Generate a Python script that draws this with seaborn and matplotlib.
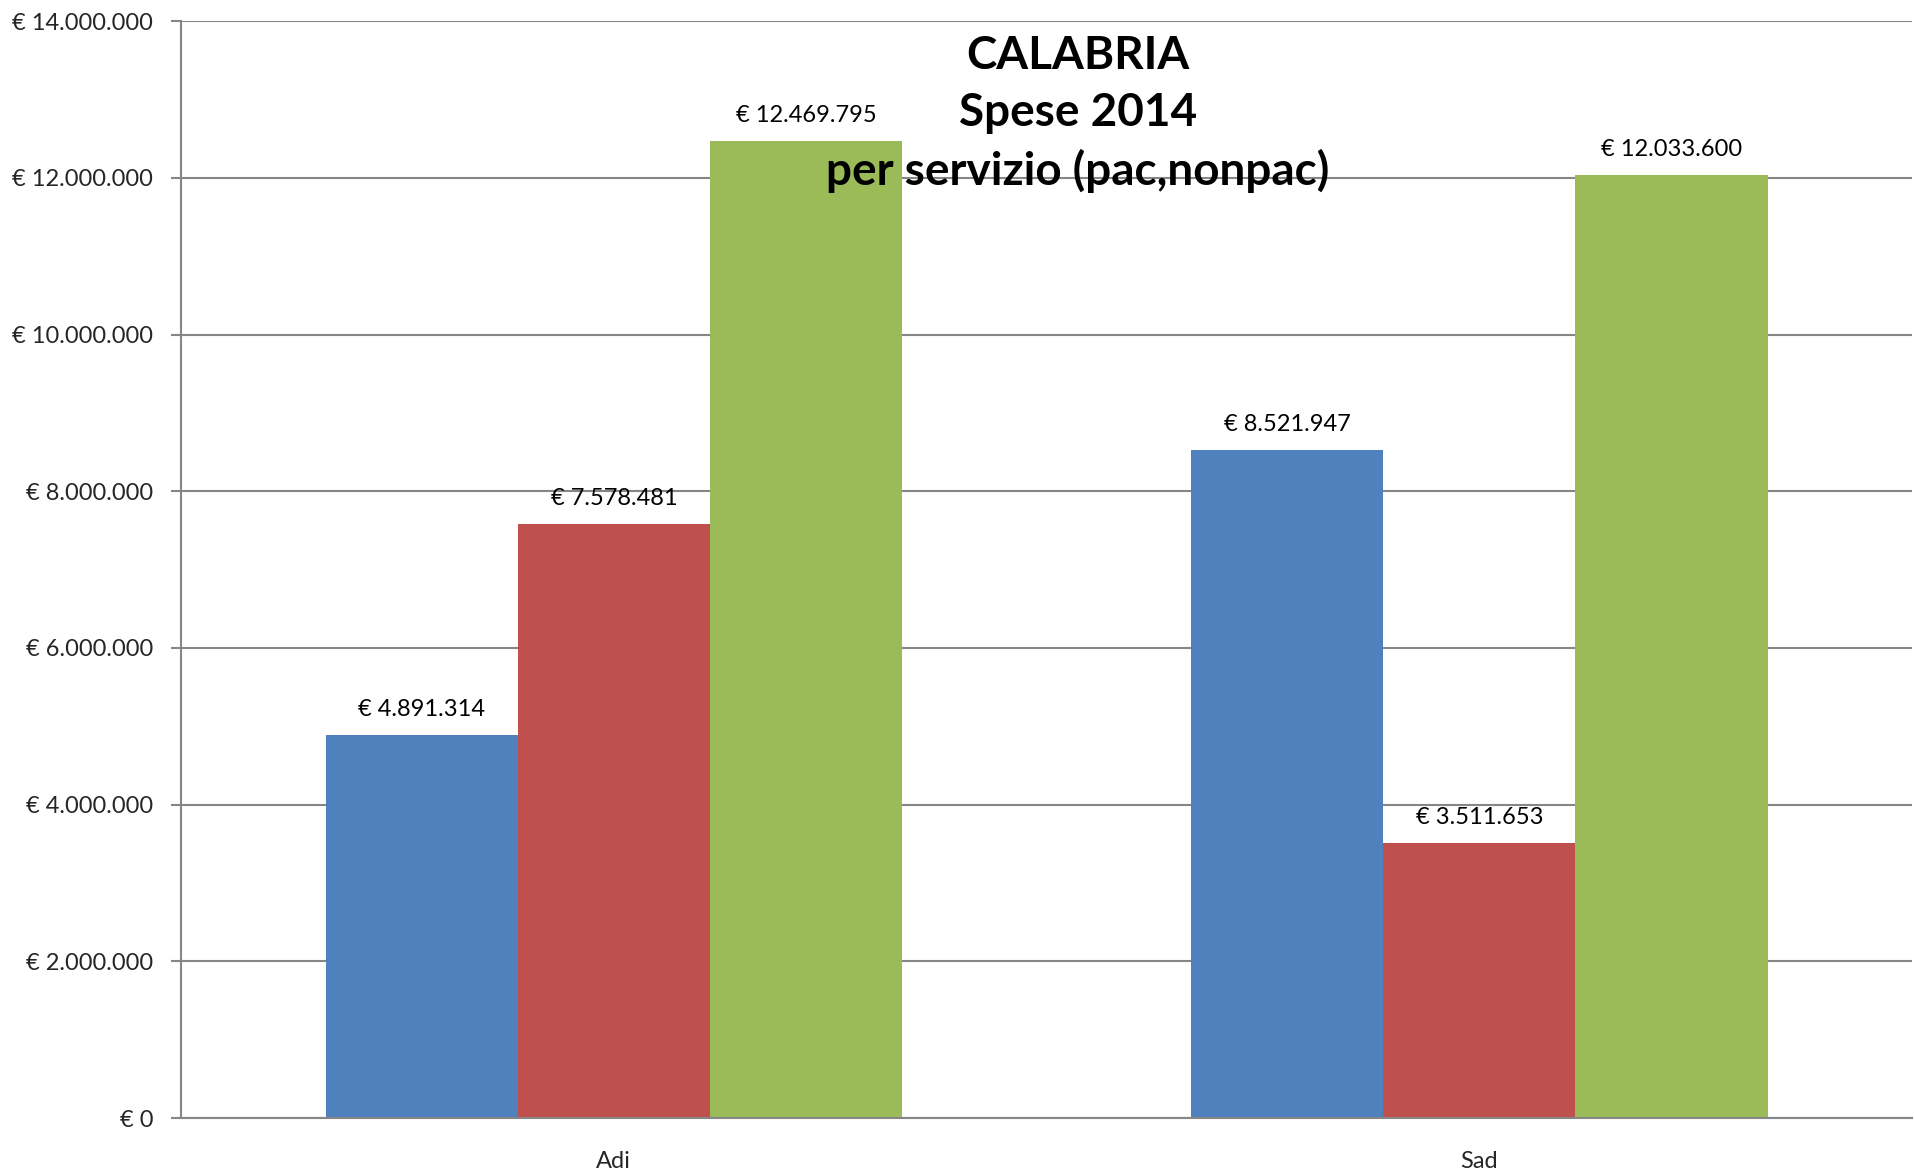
import matplotlib
matplotlib.use("Agg")
import matplotlib.pyplot as plt
import seaborn as sns
import pandas as pd
from matplotlib.ticker import FuncFormatter, FixedLocator

categories = ["Adi", "Sad"]
series = ["pac", "nonpac", "totale"]
pac = [4891314, 8521947]
nonpac = [7578481, 3511653]
totale = [12469795, 12033600]
colors = ["#4F81BD", "#C0504D", "#9BBB59"]
title_lines = ["CALABRIA", "Spese 2014", "per servizio (pac,nonpac)"]

rows = []
for i, c in enumerate(categories):
    for s, vals in zip(series, [pac, nonpac, totale]):
        rows.append({"servizio": c, "serie": s, "spesa": vals[i]})
df = pd.DataFrame(rows)

sns.set_style("white")
plt.rcParams["font.family"] = ["Lato", "DejaVu Sans"]

fig = plt.figure(figsize=(19.14, 11.75), dpi=100)
ax = fig.add_axes([0.0946, 0.0485, 0.9044, 0.9335])

sns.barplot(data=df, x="servizio", y="spesa", hue="serie", order=categories,
            hue_order=series, palette=colors, width=0.666, saturation=1,
            linewidth=0, legend=False, ax=ax)

def euro(v, pos=None):
    s = f"{int(round(v)):,}".replace(",", ".")
    return f"€ {s}"

for cont in ax.containers:
    ax.bar_label(cont, labels=[euro(b.get_height()) for b in cont],
                 padding=11, fontsize=17, color="black")

ax.set_xlim(-0.5, 1.5)
ax.set_ylim(0, 14000000)
ax.yaxis.set_major_locator(FixedLocator(range(0, 14000001, 2000000)))
ax.yaxis.set_major_formatter(FuncFormatter(euro))
ax.grid(axis="y", color="#868686", linewidth=1.5)
ax.set_axisbelow(True)
for sp in ["top", "right"]:
    ax.spines[sp].set_visible(False)
for sp in ["left", "bottom"]:
    ax.spines[sp].set_color("#868686")
    ax.spines[sp].set_linewidth(1.5)

ax.set_xticks([0, 1])
ax.set_xticklabels(categories)
ax.set_xticks([-0.5, 0.5, 1.5], minor=True)
ax.tick_params(axis="x", which="major", length=0, labelsize=17, pad=24)
ax.tick_params(axis="x", which="minor", length=7, width=1.5, color="#868686", direction="out")
ax.tick_params(axis="y", length=7, width=1.5, color="#868686", direction="out",
               labelsize=17, pad=13, left=True)
ax.set_xlabel("")
ax.set_ylabel("")

ax.text(0.563, 0.970, "\n".join(title_lines), transform=fig.transFigure,
        ha="center", va="top", fontsize=33, fontweight="bold",
        linespacing=1.42, color="black")

fig.savefig("out.png", dpi=100)
